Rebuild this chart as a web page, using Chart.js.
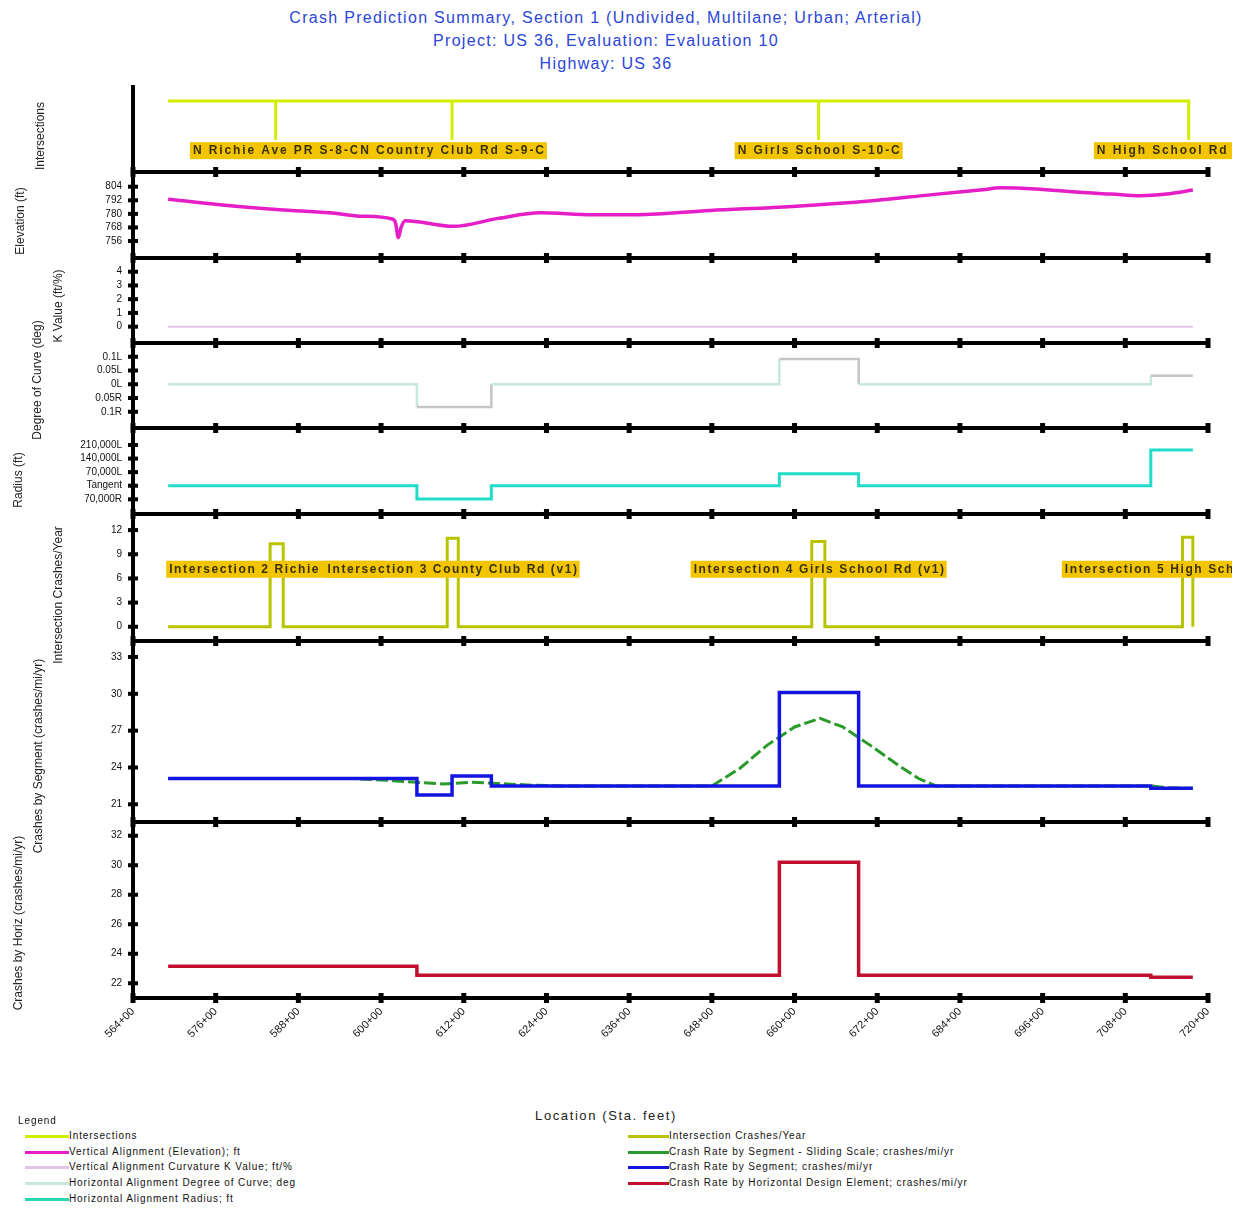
<!DOCTYPE html>
<html>
<head>
<meta charset="utf-8">
<script src="https://cdn.jsdelivr.net/npm/chart.js@4.4.1/dist/chart.umd.min.js"></script>
<style>
  body { margin: 0; background: #fff; width: 1238px; height: 1209px; position: relative; overflow: hidden;
         font-family: "Liberation Sans", Arial, sans-serif; }
  #title { position: absolute; left: 0; top: 6px; width: 1212px; text-align: center; color: #2b45d8;
           font-size: 16px; line-height: 23px; letter-spacing: 1.3px; }
  #xtitle { position: absolute; left: 0; top: 1108px; width: 1212px; text-align: center; color: #222;
            font-size: 13px; letter-spacing: 1.6px; }
  .lg { position: absolute; font-size: 10px; color: #111; white-space: nowrap; line-height: 12px; letter-spacing: 0.9px; }
  .sw { position: absolute; height: 3px; }
  .yt { position: absolute; font-size: 12px; color: #222; white-space: nowrap; line-height: 14px;
        transform: translate(-50%, -50%) rotate(-90deg); }
</style>
</head>
<body>
<div id="title">Crash Prediction Summary, Section 1 (Undivided, Multilane; Urban; Arterial)<br>Project: US 36, Evaluation: Evaluation 10<br>Highway: US 36</div>
<div id="xtitle">Location (Sta. feet)</div>
<script>
// ---- data (stations in hundreds of feet, 564 = 564+00) ----
const stationTicks = [564, 576, 588, 600, 612, 624, 636, 648, 660, 672, 684, 696, 708, 720];
const roadStart = 569.1, roadEnd = 717.8;

const intersectionAt = [584.7, 610.3, 663.5, 717.2];
const intersectionNames = ['N Richie Ave PR S-8-C', 'N Country Club Rd S-9-C', 'N Girls School S-10-C', 'N High School Rd S-11-C'];

const elevStation = [569.1, 576.6, 585.3, 592.6, 596.9, 601.6, 602.1, 602.5, 602.9, 603.5, 610.5, 617.0, 623.1, 630.7, 637.1, 647.7, 659.7, 671.3, 680.0, 686.9, 690.0, 695.0, 701.4, 706.0, 710.1, 714.0, 717.8];
const elevFeet    = [793, 788, 783.7, 781, 778, 775.5, 772, 759, 768, 774, 769, 776, 781, 779.3, 779.3, 783, 786.6, 791.6, 797, 801, 803, 802, 799, 797.5, 796, 797.5, 801];
const elevTicks = [756, 768, 780, 792, 804];

const kStation = [569.1, 717.8];
const kValue = [0, 0];
const kTicks = [0, 1, 2, 3, 4];

// horizontal alignment: breaks and the value that holds after each break
const hBreaks  = [569.1, 605.2, 616.0, 657.8, 669.3, 711.7, 717.8];
const hDegree  = [0, -0.083, 0, 0.092, 0, 0.031, 0.031];   // negative = right curve
const hRadius  = [0, -69000, 0, 62000, 0, 184000, 184000];
const degTicks = [-0.1, -0.05, 0, 0.05, 0.1];
const degLabels = ['0.1R', '0.05R', '0L', '0.05L', '0.1L'];
const radTicks = [-70000, 0, 70000, 140000, 210000];
const radLabels = ['70,000R', 'Tangent', '70,000L', '140,000L', '210,000L'];

const crashNames = ['Intersection 2 Richie Ave (v1)', 'Intersection 3 County Club Rd (v1)', 'Intersection 4 Girls School Rd (v1)', 'Intersection 5 High School Rd (v1)'];
const crashPulseStart = [583.9, 609.6, 662.5, 716.3];
const crashPulseEnd   = [585.8, 611.2, 664.4, 717.8];
const crashPerYear    = [10.3, 11.0, 10.6, 11.1];
const crashTicks = [0, 3, 6, 9, 12];

const segBreaks = [569.1, 605.2, 610.3, 616.0, 657.8, 669.3, 711.7, 717.8];
const segRate   = [23.1, 21.75, 23.3, 22.5, 30.1, 22.5, 22.3, 22.3];
const sslStation = [569.1, 596.0, 601.0, 605.2, 609.0, 613.0, 617.0, 622.0, 626.0, 648.0, 652.0, 656.0, 660.0, 663.7, 667.0, 671.0, 675.0, 678.0, 680.5, 711.7, 714.0, 717.8];
const sslRate    = [23.1, 23.1, 22.95, 22.8, 22.65, 22.8, 22.7, 22.55, 22.5, 22.5, 23.9, 25.8, 27.3, 28.0, 27.3, 25.8, 24.2, 23.1, 22.5, 22.5, 22.35, 22.3];
const segTicks = [21, 24, 27, 30, 33];

const elemBreaks = [569.1, 605.2, 657.8, 669.3, 711.7, 717.8];
const elemRate   = [23.15, 22.55, 30.2, 22.55, 22.4, 22.4];
const elemTicks = [22, 24, 26, 28, 30, 32];

const axisTitles = ['Intersections', 'Elevation (ft)', 'K Value (ft/%)', 'Degree of Curve (deg)', 'Radius (ft)', 'Intersection Crashes/Year', 'Crashes by Segment (crashes/mi/yr)', 'Crashes by Horiz (crashes/mi/yr)'];
const legendLeft = ['Intersections', 'Vertical Alignment (Elevation); ft', 'Vertical Alignment Curvature K Value; ft/%', 'Horizontal Alignment Degree of Curve; deg', 'Horizontal Alignment Radius; ft'];
const legendRight = ['Intersection Crashes/Year', 'Crash Rate by Segment - Sliding Scale; crashes/mi/yr', 'Crash Rate by Segment; crashes/mi/yr', 'Crash Rate by Horizontal Design Element; crashes/mi/yr'];

// ---- styles / placement ----
const colLeft = ['#d2ee00', '#e61ec8', '#e2c4ea', '#c6e8de', '#2ad8b0'];
const colRight = ['#b9c400', '#2a9a2a', '#1414e0', '#c0102e'];
const titlePos = [[40, 136], [20, 221], [58, 306], [37, 380], [18, 480], [58, 595], [38, 756], [18, 923]];

Chart.defaults.font.family = '"Liberation Sans", Arial, sans-serif';

const pts = (xs, ys) => xs.map((x, i) => ({ x: x, y: ys[i] }));

const framePlugin = {
  id: 'frame',
  afterDraw(chart, args, opts) {
    const { ctx, chartArea: a, scales: { x, y } } = chart;
    ctx.save();
    ctx.fillStyle = '#000';
    ctx.fillRect(a.left - 2, a.top, 4, a.bottom - a.top + 2);
    ctx.fillRect(a.left - 2, a.bottom - 2, a.right - a.left + 4, 4);
    stationTicks.forEach(v => {
      const px = x.getPixelForValue(v);
      ctx.fillRect(px - 2.5, a.bottom - 5, 5, 10);
    });
    (opts.yMarks || []).forEach(v => {
      const py = y.getPixelForValue(v);
      ctx.fillRect(a.left - 5, py - 2, 10, 4);
    });
    ctx.restore();
  }
};

const tagPlugin = {
  id: 'tags',
  afterDatasetsDraw(chart, args, opts) {
    if (!opts.names) return;
    const { ctx, scales: { x, y } } = chart;
    ctx.save();
    ctx.beginPath();
    ctx.rect(0, 0, 1232, chart.height);
    ctx.clip();
    ctx.font = 'bold 12px "Liberation Sans", Arial, sans-serif';
    ctx.letterSpacing = opts.spacing + 'px';
    ctx.textBaseline = 'middle';
    const cy = y.getPixelForValue(opts.yValue);
    opts.names.forEach((name, i) => {
      const w = ctx.measureText(name).width + 4;
      const left = x.getPixelForValue(opts.at[i]) - w / 2;
      ctx.fillStyle = '#f3c400';
      ctx.fillRect(left, cy - 8, w, 17);
      ctx.fillStyle = '#3a3200';
      ctx.fillText(name, left + 3, cy + 1);
    });
    ctx.restore();
  }
};

function panel(top, bottom, cfg) {
  const pad = 8;
  const xH = cfg.showX ? 62 : 0;
  const c = document.createElement('canvas');
  c.width = 1238;
  c.height = bottom - top + pad + (cfg.showX ? xH : pad);
  c.style.cssText = 'position:absolute;left:0;top:' + (top - pad) + 'px';
  document.body.appendChild(c);
  const yt = cfg.yTicks || [];
  new Chart(c, {
    type: 'line',
    data: { datasets: cfg.datasets },
    plugins: [framePlugin, tagPlugin],
    options: {
      responsive: false,
      animation: false,
      devicePixelRatio: 1,
      layout: { padding: { top: pad, bottom: cfg.showX ? 0 : pad, left: 0, right: 30 } },
      elements: { point: { radius: 0 }, line: { tension: 0 } },
      plugins: {
        legend: { display: false },
        tooltip: { enabled: false },
        frame: { yMarks: yt },
        tags: cfg.tags || {}
      },
      scales: {
        x: {
          type: 'linear', min: 564, max: 720, display: !!cfg.showX,
          afterBuildTicks: s => { s.ticks = stationTicks.map(v => ({ value: v })); },
          afterFit: s => { s.height = xH; s.paddingLeft = 0; s.paddingRight = 0; },
          grid: { display: false, drawTicks: false },
          border: { display: false },
          ticks: { autoSkip: false, maxRotation: 45, minRotation: 45, padding: 7, color: '#111',
                   font: { size: 11 }, callback: v => v + '+00' }
        },
        y: {
          type: 'linear', min: cfg.min, max: cfg.max,
          afterBuildTicks: s => { s.ticks = yt.map(v => ({ value: v })); },
          afterFit: s => { s.width = 133; s.paddingTop = 0; s.paddingBottom = 0; },
          grid: { display: false, drawTicks: false },
          border: { display: false },
          ticks: { display: yt.length > 0, autoSkip: false, padding: 11, color: '#111', font: { size: 10 },
                   callback: (v, i) => cfg.yLabels ? cfg.yLabels[i] : v }
        }
      }
    }
  });
}

// intersections: main line with a drop at each intersection
const interLine = [{ x: roadStart, y: 1 }];
intersectionAt.forEach(s => { interLine.push({ x: s, y: 1 }, { x: s, y: 0 }, { x: s, y: 1 }); });

// intersection crashes: baseline with a pulse at each intersection
const crashLine = [{ x: roadStart, y: 0 }];
crashPulseStart.forEach((s, i) => {
  crashLine.push({ x: s, y: 0 }, { x: s, y: crashPerYear[i] },
                 { x: crashPulseEnd[i], y: crashPerYear[i] }, { x: crashPulseEnd[i], y: 0 });
});
crashLine.push({ x: roadEnd, y: 0 });

panel(85, 172, {
  min: -0.82, max: 1.41,
  datasets: [{ data: interLine, borderColor: colLeft[0], borderWidth: 3 }],
  tags: { names: intersectionNames, at: intersectionAt, yValue: -0.26, spacing: 1.9 }
});
panel(172, 258, {
  min: 741, max: 817, yTicks: elevTicks,
  datasets: [{ data: pts(elevStation, elevFeet), borderColor: colLeft[1], borderWidth: 3.5, cubicInterpolationMode: 'monotone' }]
});
panel(258, 343, {
  min: -1.19, max: 5.0, yTicks: kTicks,
  datasets: [{ data: pts(kStation, kValue), borderColor: colLeft[2], borderWidth: 2 }]
});
panel(343, 428, {
  min: -0.159, max: 0.15, yTicks: degTicks, yLabels: degLabels,
  datasets: [{ data: pts(hBreaks, hDegree), borderColor: colLeft[3], borderWidth: 2.5, stepped: true,
               segment: { borderColor: ctx => ctx.p0.parsed.y !== 0 ? '#c4c4c4' : undefined } }]
});
panel(428, 514, {
  min: -145700, max: 297500, yTicks: radTicks, yLabels: radLabels,
  datasets: [{ data: pts(hBreaks, hRadius), borderColor: '#22dcc8', borderWidth: 3, stepped: true }]
});
panel(514, 641, {
  min: -1.77, max: 14, yTicks: crashTicks,
  datasets: [{ data: crashLine, borderColor: colRight[0], borderWidth: 3 }],
  tags: { names: crashNames, at: intersectionAt, yValue: 7.2, spacing: 1.6 }
});
panel(641, 822, {
  min: 19.56, max: 34.3, yTicks: segTicks,
  datasets: [
    { data: pts(segBreaks, segRate), borderColor: colRight[2], borderWidth: 3.5, stepped: true, order: 1 },
    { data: pts(sslStation, sslRate), borderColor: colRight[1], borderWidth: 3, borderDash: [12, 4], order: 2 }
  ]
});
panel(822, 998, {
  min: 21.0, max: 32.93, yTicks: elemTicks, showX: true,
  datasets: [{ data: pts(elemBreaks, elemRate), borderColor: colRight[3], borderWidth: 3.5, stepped: true }]
});

// axis titles, legend
function addDiv(cls, txt, left, top) {
  const d = document.createElement('div');
  d.className = cls;
  d.style.left = left + 'px';
  d.style.top = top + 'px';
  d.textContent = txt;
  document.body.appendChild(d);
}
axisTitles.forEach((t, i) => addDiv('yt', t, titlePos[i][0], titlePos[i][1]));

function addSwatch(color, left, width, cy) {
  const d = document.createElement('div');
  d.className = 'sw';
  d.style.cssText += ';left:' + left + 'px;top:' + (cy - 1) + 'px;width:' + width + 'px;background:' + color;
  document.body.appendChild(d);
}
addDiv('lg', 'Legend', 18, 1115);
const rowY = [1136, 1152, 1167, 1183, 1199];
legendLeft.forEach((t, i) => { addSwatch(colLeft[i], 25, 44, rowY[i]); addDiv('lg', t, 69, rowY[i] - 6); });
legendRight.forEach((t, i) => { addSwatch(colRight[i], 628, 41, rowY[i]); addDiv('lg', t, 669, rowY[i] - 6); });
</script>
</body>
</html>
